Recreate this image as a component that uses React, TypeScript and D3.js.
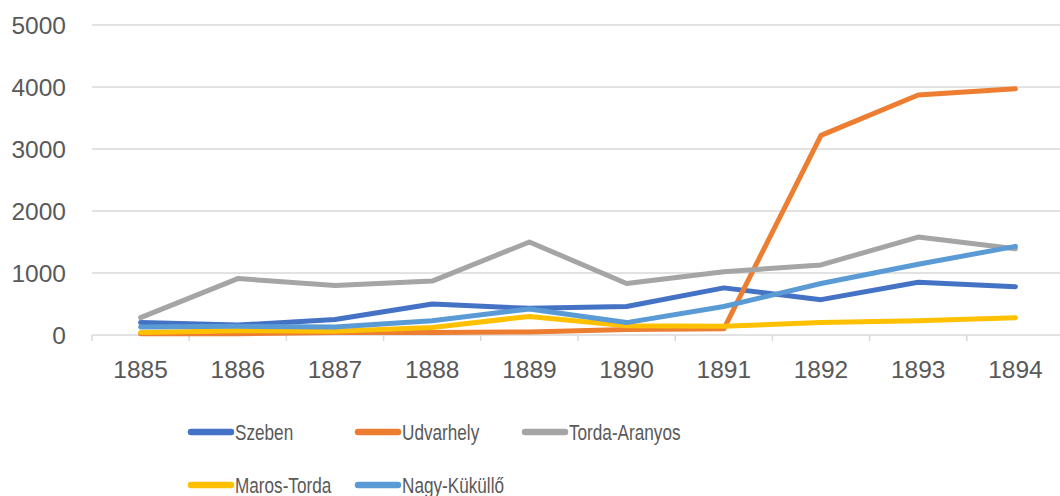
import React from "react";
import * as d3 from "d3";

const years = ["1885", "1886", "1887", "1888", "1889", "1890", "1891", "1892", "1893", "1894"];
const yTicks = [0, 1000, 2000, 3000, 4000, 5000];

const szeben = [200, 160, 250, 500, 430, 460, 760, 570, 850, 780];
const udvarhely = [20, 20, 40, 40, 50, 90, 100, 3220, 3870, 3970];
const tordaAranyos = [280, 910, 800, 870, 1500, 830, 1020, 1130, 1580, 1390];
const marosTorda = [40, 70, 60, 120, 300, 150, 140, 200, 230, 280];
const nagyKukullo = [130, 140, 130, 230, 420, 200, 460, 830, 1140, 1430];

const seriesNames = ["Szeben", "Udvarhely", "Torda-Aranyos", "Maros-Torda", "Nagy-Küküllő"];
const seriesValues = [szeben, udvarhely, tordaAranyos, marosTorda, nagyKukullo];
const seriesColors = ["#4472C4", "#ED7D31", "#A5A5A5", "#FFC000", "#5B9BD5"];

const W = 1060;
const H = 496;
const left = 92;
const right = 1064;
const top = 25;
const bottom = 335;

export default function App() {
  const x = d3.scaleBand<string>().domain(years).range([left, right]).paddingInner(0).paddingOuter(0);
  const y = d3.scaleLinear().domain([0, 5000]).range([bottom, top]);
  const line = d3
    .line<number>()
    .x((_, i) => (x(years[i]) as number) + x.bandwidth() / 2)
    .y((d) => y(d));

  const boundaries = d3.range(years.length + 1).map((i) => left + i * x.bandwidth());

  const legendItems = [
    { i: 0, lx: 188, ly: 432 },
    { i: 1, lx: 355, ly: 432 },
    { i: 2, lx: 522, ly: 432 },
    { i: 3, lx: 188, ly: 485 },
    { i: 4, lx: 355, ly: 485 },
  ];

  return (
    <svg
      width={W}
      height={H}
      style={{ position: "absolute", left: 0, top: 0, background: "#fff" }}
    >
      <rect x={0} y={0} width={W} height={H} fill="#fff" />
      {yTicks.map((t) => (
        <g key={t}>
          <line x1={left} x2={right} y1={y(t)} y2={y(t)} stroke="#d9d9d9" strokeWidth={1.5} />
          <text
            x={66}
            y={y(t) + 9}
            textAnchor="end"
            fontFamily="'Liberation Sans', Arial, sans-serif"
            fontSize={24.5}
            fill="#595959"
          >
            {t}
          </text>
        </g>
      ))}
      {boundaries.map((b, i) => (
        <line key={i} x1={b} x2={b} y1={bottom} y2={bottom + 6} stroke="#d9d9d9" strokeWidth={1.5} />
      ))}
      {years.map((yr) => (
        <text
          key={yr}
          x={(x(yr) as number) + x.bandwidth() / 2}
          y={378}
          textAnchor="middle"
          fontFamily="'Liberation Sans', Arial, sans-serif"
          fontSize={24.5}
          fill="#595959"
        >
          {yr}
        </text>
      ))}
      {seriesValues.map((vals, i) => (
        <path
          key={seriesNames[i]}
          d={line(vals) || ""}
          fill="none"
          stroke={seriesColors[i]}
          strokeWidth={5}
          strokeLinejoin="round"
          strokeLinecap="round"
        />
      ))}
      {legendItems.map(({ i, lx, ly }) => (
        <g key={seriesNames[i]}>
          <line
            x1={lx + 3}
            x2={lx + 43}
            y1={ly}
            y2={ly}
            stroke={seriesColors[i]}
            strokeWidth={6.5}
            strokeLinecap="round"
          />
          <text
            transform={`translate(${lx + 47},${ly + 8}) scale(0.78,1)`}
            fontFamily="'Liberation Sans', Arial, sans-serif"
            fontSize={22}
            fill="#595959"
          >
            {seriesNames[i]}
          </text>
        </g>
      ))}
    </svg>
  );
}
